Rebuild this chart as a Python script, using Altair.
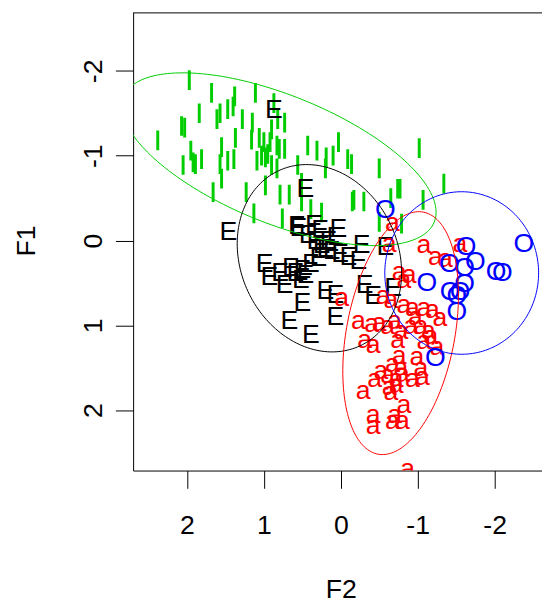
import altair as alt
import numpy as np
import pandas as pd

# ---- data (F2 = horizontal, F1 = vertical) ----
green_f2 = [1.97, 1.68, 1.38, 1.11, 1.84, 1.61, 1.57, 1.47, 1.40, 1.28, 1.15, 0.87, 0.82,
            2.07, 2.03, 2.38, 1.95, 1.92, 2.05, 1.89, 1.81, 1.66, 1.55, 1.57, 1.55, 1.47,
            1.39, 1.37, 1.16, 1.09, 1.06, 1.03, 1.00, 0.98, 0.95, 0.92, 0.90, 0.83, 0.80,
            0.73, 0.73, 0.90, 0.83, 0.98, 1.13, 1.23, 0.79, 0.76, 0.67, 0.56, 0.43, 0.31,
            0.20, 0.19, 0.10, 0.03, -0.09, -0.14, -0.15, -0.17, -0.30, -0.50, -0.65, -0.74,
            -0.77, -1.02, -1.07, -1.34, 0.51, 0.39, 0.25, -0.50, -0.79, 0.51]
green_f1 = [-1.89, -1.74, -1.70, -1.74, -1.50, -1.43, -1.50, -1.55, -1.58, -1.43, -1.39, -1.62, -1.43,
            -1.35, -1.33, -1.18, -1.06, -0.92, -0.89, -0.90, -0.96, -0.57, -1.10, -0.90, -0.73, -0.94,
            -0.96, -1.21, -1.19, -0.94, -1.21, -1.00, -1.16, -0.98, -1.02, -1.16, -1.31, -1.12, -1.08,
            -1.39, -1.08, -0.89, -0.85, -0.65, -0.32, -0.57, -0.54, -0.26, -0.54, -0.89, -1.12, -1.06,
            -0.85, -0.98, -1.00, -1.16, -0.96, -0.90, -0.46, -0.48, -0.46, -0.85, -0.50, -0.61,
            -0.61, -1.09, -0.48, -0.67, -0.46, -0.37, -0.33, -0.22, -0.20, -0.68]

e_f2 = [0.87, 0.46, 1.46, 0.57, 0.55, 0.35, 0.27, 0.03, 0.20, 0.12, 0.01, -0.10, -0.23, -0.27,
        -0.58, 0.29, 0.39, 0.50, 0.65, 0.52, 0.99, 0.93, 0.73, 0.50, 0.20, 0.07, -0.31, -0.42,
        0.07, 0.67, 0.39, -0.68, 0.16, 0.43, 0.33, 0.25, 0.07, 0.59, 0.46, 0.79]
e_f1 = [-1.54, -0.61, -0.10, -0.17, -0.15, -0.18, -0.12, -0.14, 0.10, 0.12, 0.16, 0.20, 0.24, 0.05,
        0.08, 0.21, 0.28, 0.35, 0.32, 0.47, 0.28, 0.43, 0.53, 0.74, 0.60, 0.64, 0.53, 0.66,
        0.90, 0.95, 1.12, 0.56, 0.01, -0.06, 0.01, 0.06, -0.04, 0.38, 0.41, 0.38]

a_f2 = [-0.67, -0.63, -1.08, -1.23, -1.36, -1.55, -0.76, -0.89, -0.01, -0.55, -0.65, -0.82, -0.93,
        -1.08, -1.19, -1.29, -0.97, -0.23, -0.40, -0.50, -0.61, -0.70, -1.04, -1.14, -0.31, -0.42,
        -0.74, -1.08, -1.17, -1.25, -0.76, -0.99, -0.67, -0.78, -1.04, -0.44, -0.61, -0.72, -0.80,
        -0.93, -1.06, -0.29, -0.63, -0.72, -0.42, -0.42, -0.70, -0.80, -0.82, -0.87, -0.67, -0.82,
        -0.78, -0.91, -0.52, -0.65]
a_f1 = [-0.21, 0.04, 0.06, 0.20, 0.22, 0.04, 0.37, 0.41, 0.68, 0.66, 0.70, 0.76, 0.80,
        0.80, 0.82, 0.92, 0.90, 0.95, 0.99, 0.97, 1.01, 0.95, 1.01, 1.07, 1.17, 1.23,
        1.17, 1.19, 1.13, 1.26, 1.36, 1.38, 1.46, 1.50, 1.50, 1.63, 1.59, 1.63, 1.57,
        1.63, 1.61, 1.77, 1.73, 1.71, 2.06, 2.19, 2.06, 2.13, 1.94, 2.69, 2.13, 0.47,
        1.07, 1.01, 1.54, 1.79]

o_f2 = [-0.58, -1.63, -1.75, -1.41, -1.61, -1.12, -2.02, -2.10, -2.38, -1.61, -1.42, -1.55,
        -1.51, -1.51, -1.23]
o_f1 = [-0.36, 0.08, 0.25, 0.28, 0.32, 0.50, 0.37, 0.39, 0.04, 0.52, 0.61, 0.61,
        0.66, 0.84, 1.39]

# ellipses: centre and two conjugate semi-axis vectors (data units)
ell_grp = ["G", "E", "A", "O"]
ell_cx = [0.803, 0.278, -0.778, -1.572]
ell_cy = [-0.958, 0.209, 1.092, 0.383]
ell_ux = [-2.018, -0.530, 0.294, 0.0]
ell_uy = [0.740, 1.032, 1.427, 0.958]
ell_vx = [0.312, -0.928, -0.692, -1.0]
ell_vy = [0.700, -0.393, 0.118, 0.0]

grp_domain = ["G", "E", "A", "O"]
grp_colors = ["#00CD00", "#000000", "#FF0000", "#0000FF"]

x_ticks = [-2, -1, 0, 1, 2]
y_ticks = [-2, -1, 0, 1, 2]

# ---- tables ----
green_df = pd.DataFrame({"F2": green_f2, "F1": green_f1})
text_df = pd.concat([
    pd.DataFrame({"F2": e_f2, "F1": e_f1, "grp": "E", "label": "E"}),
    pd.DataFrame({"F2": a_f2, "F1": a_f1, "grp": "A", "label": "a"}),
    pd.DataFrame({"F2": o_f2, "F1": o_f1, "grp": "O", "label": "O"}),
], ignore_index=True)
text_df["ord"] = range(len(text_df))

tt = np.linspace(0, 2 * np.pi, 181)
rows = []
for g, cx, cy, ux, uy, vx, vy in zip(ell_grp, ell_cx, ell_cy, ell_ux, ell_uy, ell_vx, ell_vy):
    for i, t in enumerate(tt):
        rows.append({"grp": g, "t": i,
                     "F2": cx + ux * np.cos(t) + vx * np.sin(t),
                     "F1": cy + uy * np.cos(t) + vy * np.sin(t)})
ell_df = pd.DataFrame(rows)

FONT = "Liberation Sans"
W, H = 415, 465

x_enc = alt.X("F2:Q",
              scale=alt.Scale(domain=[-2.616, 2.70], reverse=True, nice=False, zero=False),
              axis=alt.Axis(values=x_ticks, grid=False, tickSize=18, labelPadding=25,
                            labelFontSize=27, labelFlush=False, labelExpr="'' + datum.value",
                            title="F2", titleFontSize=27, titleFontWeight="normal",
                            titleX=210.7, titleY=129, titleBaseline="alphabetic",
                            titleAlign="center"))
y_enc = alt.Y("F1:Q",
              scale=alt.Scale(domain=[-2.689, 2.712], reverse=True, nice=False, zero=False),
              axis=alt.Axis(values=y_ticks, grid=False, tickSize=18, labelPadding=14,
                            labelFontSize=27, labelAngle=270, labelAlign="center",
                            labelBaseline="alphabetic", labelFlush=False,
                            labelExpr="'' + datum.value",
                            title="F1", titleFontSize=27, titleFontWeight="normal",
                            titleAngle=270, titleX=-100, titleY=231.5,
                            titleBaseline="alphabetic", titleAlign="center"))
color_enc = alt.Color("grp:N", scale=alt.Scale(domain=grp_domain, range=grp_colors), legend=None)

ticks = alt.Chart(green_df).mark_tick(orient="vertical", size=20, thickness=3,
                                      color="#00CD00", opacity=1, clip=True).encode(x=x_enc, y=y_enc)

texts = alt.Chart(text_df).mark_text(font=FONT, fontSize=27, baseline="middle",
                                     align="center", clip=True).encode(
    x=x_enc, y=y_enc, text="label:N", color=color_enc, order="ord:Q")

ellipses = alt.Chart(ell_df).mark_line(strokeWidth=1, clip=True).encode(
    x=x_enc, y=y_enc, color=color_enc, detail="grp:N", order="t:Q")

top_border = alt.Chart(pd.DataFrame({"k": [0]})).mark_rule(color="black", strokeWidth=1).encode(
    x=alt.value(0), x2=alt.value(W), y=alt.value(0.5))

chart = alt.layer(ticks, texts, ellipses, top_border).properties(
    width=W, height=H, autosize="none",
    padding={"left": 127, "top": 0, "right": 0, "bottom": 133},
).configure_view(stroke=None).configure_axis(
    labelFont=FONT, titleFont=FONT, labelColor="black", titleColor="black",
    tickColor="black", domainColor="black", tickWidth=1, domainWidth=1,
)

chart.save("out.html", embed_options={"renderer": "svg", "actions": False})
